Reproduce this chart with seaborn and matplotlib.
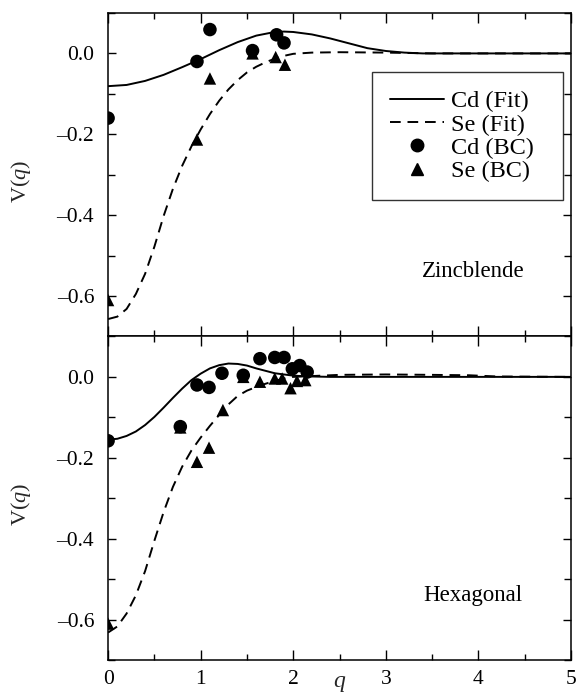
import matplotlib
matplotlib.use("Agg")
import numpy as np
import pandas as pd
import matplotlib.pyplot as plt
import seaborn as sns
from matplotlib.ticker import MultipleLocator, FuncFormatter
from matplotlib.lines import Line2D
from matplotlib.legend_handler import HandlerLine2D

# ---------------- data ----------------
# Zincblende fits
zb_cd_fit_q = [0.0, 0.2, 0.4, 0.6, 0.8, 1.0, 1.2, 1.4, 1.6, 1.8, 1.9, 2.0, 2.2, 2.4, 2.6, 2.8, 3.0, 3.2, 3.4, 5.0]
zb_cd_fit_v = [-0.081, -0.078, -0.068, -0.053, -0.034, -0.014, 0.008, 0.028, 0.044, 0.053, 0.054, 0.053,
               0.047, 0.037, 0.025, 0.013, 0.006, 0.002, 0.0, 0.0]
zb_se_fit_q = [0.0, 0.1, 0.2, 0.3, 0.4, 0.5, 0.6, 0.7, 0.8, 0.9, 1.0, 1.1, 1.2, 1.3, 1.4, 1.5, 1.6, 1.7,
               1.8, 1.9, 2.0, 2.2, 2.5, 3.0, 3.5, 5.0]
zb_se_fit_v = [-0.657, -0.651, -0.632, -0.595, -0.545, -0.478, -0.402, -0.335, -0.278, -0.230, -0.188,
               -0.150, -0.117, -0.089, -0.066, -0.047, -0.033, -0.022, -0.013, -0.006, -0.001, 0.002,
               0.003, 0.002, 0.0, 0.0]
# Zincblende BC points
zb_cd_bc_q = [0.0, 0.96, 1.10, 1.56, 1.82, 1.90]
zb_cd_bc_v = [-0.160, -0.020, 0.059, 0.007, 0.046, 0.026]
zb_se_bc_q = [0.0, 0.96, 1.10, 1.56, 1.81, 1.91]
zb_se_bc_v = [-0.610, -0.213, -0.062, 0.000, -0.009, -0.028]

# Hexagonal fits
hx_cd_fit_q = [0.0, 0.1, 0.2, 0.3, 0.4, 0.5, 0.6, 0.7, 0.8, 0.9, 1.0, 1.1, 1.2, 1.3, 1.4, 1.5, 1.6, 1.7,
               1.8, 2.0, 2.2, 2.4, 5.0]
hx_cd_fit_v = [-0.155, -0.153, -0.146, -0.135, -0.119, -0.099, -0.076, -0.052, -0.029, -0.008, 0.008,
               0.021, 0.029, 0.033, 0.032, 0.028, 0.021, 0.015, 0.009, 0.003, 0.001, 0.0, 0.0]
hx_se_fit_q = [0.0, 0.1, 0.2, 0.3, 0.4, 0.5, 0.6, 0.7, 0.8, 0.9, 1.0, 1.1, 1.2, 1.3, 1.4, 1.5, 1.6, 1.7,
               1.8, 1.9, 2.0, 2.5, 3.0, 3.5, 3.9, 4.2, 5.0]
hx_se_fit_v = [-0.632, -0.617, -0.585, -0.540, -0.480, -0.405, -0.334, -0.272, -0.222, -0.182, -0.150,
               -0.121, -0.094, -0.068, -0.047, -0.034, -0.025, -0.017, -0.010, -0.004, 0.0, 0.005,
               0.006, 0.005, 0.004, 0.001, 0.0]
# Hexagonal BC points
hx_cd_bc_q = [0.0, 0.78, 0.96, 1.09, 1.23, 1.46, 1.64, 1.80, 1.90, 1.99, 2.07, 2.15]
hx_cd_bc_v = [-0.158, -0.123, -0.020, -0.026, 0.009, 0.004, 0.045, 0.048, 0.048, 0.020, 0.028, 0.012]
hx_se_bc_q = [0.0, 0.78, 0.96, 1.09, 1.24, 1.46, 1.64, 1.80, 1.88, 1.97, 2.04, 2.13]
hx_se_bc_v = [-0.610, -0.125, -0.210, -0.175, -0.082, 0.000, -0.012, -0.004, -0.004, -0.028, -0.010, -0.008]

x_ticks = [0, 1, 2, 3, 4, 5]
y_ticks = [-0.6, -0.4, -0.2, 0.0]
panel_names = ["Zincblende", "Hexagonal"]
legend_labels = ["Cd (Fit)", "Se (Fit)", "Cd (BC)", "Se (BC)"]

# ---------------- style ----------------
sns.set_theme(style="ticks")
plt.rcParams.update({
    "font.family": ["Liberation Serif", "DejaVu Serif"],
    "mathtext.fontset": "custom",
    "mathtext.rm": "Liberation Serif",
    "mathtext.it": "Liberation Serif:italic",
    "axes.linewidth": 1.1,
    "axes.edgecolor": "black",
    "xtick.color": "black",
    "ytick.color": "black",
    "text.color": "black",
})

fig = plt.figure(figsize=(5.78, 6.98), dpi=100)
ax1 = fig.add_axes([0.187, 0.5180, 0.801, 0.4634])
ax2 = fig.add_axes([0.187, 0.0544, 0.801, 0.4636])

panels = [
    (ax1, zb_cd_fit_q, zb_cd_fit_v, zb_se_fit_q, zb_se_fit_v, zb_cd_bc_q, zb_cd_bc_v, zb_se_bc_q, zb_se_bc_v),
    (ax2, hx_cd_fit_q, hx_cd_fit_v, hx_se_fit_q, hx_se_fit_v, hx_cd_bc_q, hx_cd_bc_v, hx_se_bc_q, hx_se_bc_v),
]


def yfmt(v, pos):
    s = "%.1f" % abs(v)
    return ("\u2013" + s) if v < -1e-9 else s


for i, (ax, cq, cv, sq, sv, cbq, cbv, sbq, sbv) in enumerate(panels):
    sns.lineplot(x=cq, y=cv, ax=ax, color="black", linewidth=1.4, sort=False)
    sns.lineplot(x=sq, y=sv, ax=ax, color="black", linewidth=1.4, sort=False,
                 linestyle=(0, (5.5, 3.5)))
    sns.scatterplot(x=sbq, y=sbv, ax=ax, marker="^", color="black", s=80, edgecolor="none", zorder=3)
    sns.scatterplot(x=cbq, y=cbv, ax=ax, marker="o", color="black", s=95, edgecolor="none", zorder=4)

    ax.set_xlim(0, 5)
    ax.set_ylim(-0.7, 0.1)
    ax.xaxis.set_major_locator(MultipleLocator(1))
    ax.xaxis.set_minor_locator(MultipleLocator(0.5))
    ax.set_yticks(y_ticks)
    ax.yaxis.set_minor_locator(MultipleLocator(0.1))
    ax.yaxis.set_major_formatter(FuncFormatter(yfmt))
    ax.tick_params(axis="both", which="both", direction="in", top=True, right=True,
                   width=1.0, labelsize=15.5)
    ax.tick_params(axis="y", which="major", pad=10)
    ax.tick_params(axis="x", which="major", pad=7)
    ax.tick_params(axis="x", which="major", length=7)
    ax.tick_params(axis="x", which="minor", length=4)
    ax.tick_params(axis="y", which="major", length=6)
    ax.tick_params(axis="y", which="minor", length=5)
    ax.set_ylabel(r"$\mathrm{V}(q)$", fontsize=16)
    ax.yaxis.set_label_coords(-0.163, 0.48)
    ax.text(3.94, -0.54, panel_names[i], ha="center", va="center", fontsize=16.5)

ax1.set_xticks(x_ticks)
ax1.tick_params(axis="x", labelbottom=False)
ax1.set_xlabel("")
ax2.set_xticks(x_ticks)
ax2.set_xlabel("$q$", fontsize=17, labelpad=-11)


class RightMarker(HandlerLine2D):
    def get_xdata(self, legend, xdescent, ydescent, width, height, fontsize):
        xd = np.array([-xdescent, -xdescent + width])
        xm = np.array([-xdescent + width - 0.3 * fontsize])
        return xd, xm


handles = [
    Line2D([], [], color="black", linewidth=1.4),
    Line2D([], [], color="black", linewidth=1.4, linestyle=(0, (5.5, 3.5))),
    Line2D([], [], color="black", marker="o", linestyle="none", markersize=9),
    Line2D([], [], color="black", marker="^", linestyle="none", markersize=9),
]
leg = ax1.legend(handles, legend_labels, loc="upper left", bbox_to_anchor=(0.570, 0.817, 0.4125, 0.0),
                 mode="expand",
                 fontsize=17.5, frameon=True, fancybox=False, handlelength=2.2, handletextpad=0.3,
                 labelspacing=0.05, borderpad=0.75, borderaxespad=0.0,
                 handler_map={handles[2]: RightMarker(numpoints=1), handles[3]: RightMarker(numpoints=1)})
leg.get_frame().set_edgecolor("black")
leg.get_frame().set_linewidth(1.0)

fig.savefig("out.png", dpi=100)
